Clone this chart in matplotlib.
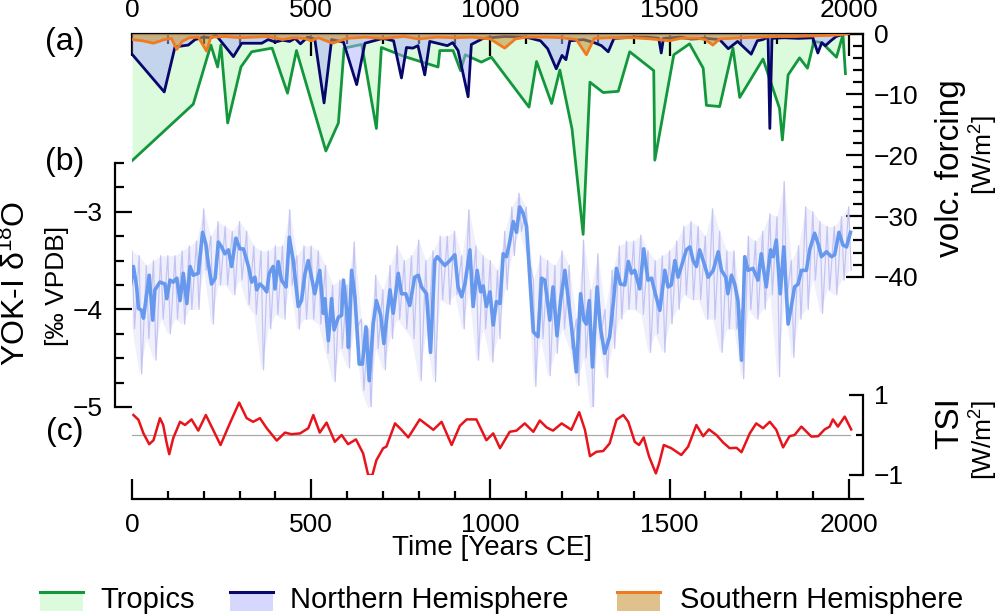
import numpy as np
import matplotlib
matplotlib.use("Agg")
import matplotlib.pyplot as plt
from matplotlib.ticker import MultipleLocator, FixedLocator
from matplotlib.patches import Rectangle
from matplotlib.lines import Line2D

plt.rcParams['font.family'] = ['Liberation Sans', 'DejaVu Sans']
plt.rcParams['mathtext.fontset'] = 'custom'
plt.rcParams['mathtext.rm'] = 'Liberation Sans'
plt.rcParams['mathtext.it'] = 'Liberation Sans:italic'

# ---------------- (a) volcanic forcing [W/m2] ----------------
trop_yr = [0, 171, 220, 239, 248, 267, 304, 334, 391, 434, 459, 541, 576, 592, 641,
           682, 696, 761, 854, 859, 896, 917, 930, 975, 1003, 1108, 1129, 1171, 1194,
           1228, 1259, 1278, 1315, 1357, 1389, 1456, 1459, 1512, 1556, 1594, 1603,
           1640, 1677, 1696, 1761, 1807, 1815, 1831, 1863, 1885, 1903, 1925, 1966,
           1984, 1991]
trop_val = [-20.9, -11.6, -1.9, -5.5, -1.9, -14.7, -5.5, -3.0, -2.4, -9.8, -2.8, -19.3,
            -14.7, -2.4, -1.8, -15.6, -2.3, -3.8, -5.5, -2.8, -2.8, -6.1, -3.5, -4.7,
            -3.9, -12.1, -4.6, -11.5, -6.0, -15.7, -33.0, -8.0, -9.7, -9.5, -3.0, -6.1,
            -20.8, -3.5, -1.7, -5.7, -11.8, -12.0, -2.4, -10.5, -4.2, -12.3, -17.5,
            -6.8, -4.0, -5.7, -1.3, -1.5, -3.9, -0.2, -6.6]

nh_yr = [0, 90, 120, 157, 176, 200, 220, 235, 283, 306, 362, 380, 400, 420, 440, 455,
         470, 490, 510, 536, 557, 590, 627, 650, 700, 730, 752, 766, 784, 798, 817, 831,
         880, 895, 910, 938, 947, 980, 1040, 1100, 1140, 1160, 1184, 1200, 1211, 1222,
         1260, 1290, 1310, 1329, 1345, 1400, 1440, 1470, 1477, 1483, 1530, 1560, 1600,
         1640, 1664, 1690, 1728, 1745, 1760, 1775, 1780, 1786, 1820, 1860, 1900, 1914,
         1925, 1935, 1950, 1965, 1975]
nh_val = [-3.4, -9.6, -2.2, -1.9, -1.0, -0.6, -0.7, -0.3, -3.8, -1.6, -1.6, -1.0, -1.4,
          -1.1, -1.3, -0.8, -1.7, -0.6, -0.9, -11.4, -1.0, -1.4, -8.4, -1.6, -0.8, -1.2,
          -7.3, -2.3, -2.4, -2.0, -6.8, -1.3, -2.0, -1.5, -2.8, -10.4, -1.8, -0.8, -0.5,
          -0.6, -1.2, -2.5, -5.8, -3.6, -4.3, -1.2, -1.0, -1.5, -2.0, -3.0, -0.8, -0.6,
          -0.6, -0.8, -3.2, -0.8, -0.6, -0.9, -0.8, -1.0, -2.5, -1.3, -3.4, -1.2, -1.0,
          -0.6, -15.6, -0.8, -0.7, -0.8, -0.7, -3.2, -1.5, -2.0, -1.2, -0.5, -0.3]

sh_yr = [0, 30, 60, 90, 110, 125, 140, 160, 185, 208, 220, 260, 300, 340, 380, 420, 450,
         480, 500, 520, 560, 600, 650, 700, 760, 800, 850, 900, 950, 1000, 1040, 1070,
         1100, 1160, 1200, 1240, 1268, 1290, 1330, 1400, 1450, 1500, 1530, 1580, 1600,
         1621, 1640, 1700, 1750, 1800, 1850, 1900, 1950, 1975, 2000]
sh_val = [-1.0, -1.2, -1.6, -1.0, -0.8, -2.6, -1.3, -0.7, -0.6, -2.9, -0.6, -0.5, -0.7,
          -0.6, -0.5, -1.0, -0.7, -0.8, -1.2, -0.7, -1.6, -0.8, -0.6, -0.8, -0.5, -0.9,
          -0.6, -0.7, -0.6, -0.9, -2.4, -0.9, -0.6, -0.6, -0.7, -1.0, -3.5, -0.8, -0.7,
          -0.7, -0.9, -1.2, -0.8, -0.8, -1.0, -1.9, -0.9, -0.7, -0.6, -0.5, -0.5, -0.4,
          -0.3, -0.2, 0.0]

# ---------------- (b) YOK-I d18O ----------------
d18o_smooth_yr = [-15, -6, 4, 13, 18, 27, 32, 41, 48, 58, 64, 78, 92, 97, 106, 115, 125,
    134, 143, 153, 162, 171, 185, 197, 206, 213, 222, 232, 241, 250, 259, 269, 278, 290,
    301, 311, 325, 334, 343, 348, 357, 366, 376, 383, 394, 399, 408, 417, 430, 439, 450,
    464, 473, 483, 492, 501, 510, 524, 534, 538, 548, 557, 564, 576, 585, 590, 599, 604,
    613, 622, 627, 634, 643, 653, 662, 673, 682, 694, 703, 710, 720, 729, 743, 752, 764,
    775, 789, 799, 808, 822, 833, 845, 852, 861, 873, 887, 901, 910, 920, 929, 943, 952,
    963, 973, 980, 989, 999, 1008, 1017, 1027, 1036, 1045, 1054, 1064, 1073, 1082, 1092,
    1101, 1110, 1120, 1133, 1143, 1152, 1166, 1175, 1186, 1196, 1208, 1220, 1231, 1240,
    1252, 1261, 1268, 1276, 1285, 1298, 1307, 1319, 1333, 1343, 1352, 1363, 1375, 1385,
    1394, 1403, 1417, 1428, 1440, 1450, 1459, 1473, 1487, 1496, 1505, 1515, 1524, 1533,
    1547, 1557, 1566, 1575, 1584, 1594, 1608, 1622, 1636, 1645, 1657, 1663, 1673, 1682,
    1691, 1701, 1710, 1719, 1733, 1747, 1756, 1770, 1782, 1789, 1798, 1809, 1819, 1831,
    1840, 1849, 1859, 1868, 1882, 1891, 1905, 1915, 1924, 1938, 1952, 1961, 1973, 1984,
    1994, 2005]
d18o_smooth = [-3.72, -3.79, -3.56, -3.77, -3.99, -4.01, -4.09, -3.84, -3.65, -4.11,
    -3.80, -3.72, -3.74, -3.89, -3.70, -3.72, -3.68, -3.91, -3.63, -3.94, -3.56, -3.65,
    -3.63, -3.21, -3.33, -3.53, -3.74, -3.68, -3.31, -3.36, -3.43, -3.39, -3.56, -3.27,
    -3.38, -3.38, -3.56, -3.72, -3.67, -3.80, -3.74, -3.77, -3.82, -3.63, -3.56, -3.79,
    -3.51, -3.70, -3.77, -3.26, -3.50, -3.97, -3.91, -3.63, -3.50, -3.67, -3.84, -3.60,
    -4.04, -3.89, -4.32, -3.89, -4.21, -4.08, -4.06, -3.70, -4.01, -4.39, -3.60, -3.87,
    -4.15, -4.56, -4.56, -4.18, -4.73, -4.15, -3.91, -4.06, -4.35, -4.11, -3.80, -4.04,
    -3.63, -3.84, -3.84, -3.96, -3.67, -3.65, -3.77, -3.84, -4.44, -3.50, -3.46, -3.50,
    -3.55, -3.50, -3.44, -3.77, -3.87, -3.74, -3.39, -3.97, -3.60, -3.82, -3.76, -3.97,
    -3.82, -4.16, -3.92, -3.94, -3.43, -3.46, -3.31, -3.10, -3.21, -2.95, -3.02, -3.15,
    -3.67, -4.23, -4.28, -3.68, -3.70, -4.11, -3.77, -4.27, -3.91, -3.60, -3.97, -4.32,
    -4.64, -3.84, -4.11, -4.15, -3.91, -4.59, -3.77, -4.18, -4.45, -4.28, -3.94, -3.58,
    -3.74, -3.75, -3.51, -3.63, -3.60, -3.79, -3.38, -3.70, -3.68, -3.82, -4.01, -3.60,
    -3.77, -3.75, -3.50, -3.67, -3.56, -3.39, -3.36, -3.50, -3.56, -3.39, -3.50, -3.67,
    -3.60, -3.41, -3.60, -3.67, -3.84, -3.65, -3.74, -3.91, -4.52, -3.46, -3.60, -3.58,
    -3.70, -3.43, -3.77, -3.39, -3.46, -3.29, -3.84, -3.36, -4.15, -3.97, -3.77, -3.74,
    -3.60, -3.60, -3.39, -3.22, -3.33, -3.46, -3.41, -3.46, -3.44, -3.21, -3.34, -3.36,
    -3.21]

d18o_raw_yr = list(range(0, 2001, 20))
d18o_raw_hi = [-3.40, -3.45, -3.55, -3.50, -3.45, -3.45, -3.45, -3.40, -3.35, -3.30,
    -2.97, -3.25, -3.10, -3.15, -3.20, -3.10, -3.20, -3.35, -3.40, -3.40, -3.35, -3.35,
    -2.98, -3.45, -3.35, -3.35, -3.40, -3.55, -3.75, -3.70, -3.75, -3.31, -4.10, -4.20,
    -3.65, -3.80, -3.55, -3.35, -3.50, -3.45, -3.29, -3.50, -3.40, -3.25, -3.25, -3.20,
    -3.45, -2.98, -3.35, -3.45, -3.50, -3.60, -3.20, -2.95, -2.81, -2.95, -3.70, -3.45,
    -3.50, -3.55, -3.40, -3.55, -4.10, -3.29, -3.80, -3.43, -4.00, -3.60, -3.35, -3.30,
    -3.30, -3.24, -3.40, -3.50, -3.45, -3.40, -3.30, -3.15, -3.10, -3.15, -3.25, -2.97,
    -3.20, -3.40, -3.40, -4.00, -3.25, -3.30, -3.20, -3.02, -3.05, -2.69, -3.50, -3.35,
    -2.95, -3.00, -3.10, -3.15, -3.15, -3.05, -2.95]
d18o_raw_lo = [-4.20, -4.66, -4.30, -4.52, -4.10, -4.25, -4.10, -4.15, -4.00, -4.00,
    -3.60, -4.15, -3.75, -3.75, -3.85, -3.70, -3.95, -4.05, -4.62, -4.20, -4.05, -4.10,
    -3.75, -4.20, -4.10, -4.10, -4.15, -4.45, -4.74, -4.40, -4.60, -4.20, -4.83, -5.03,
    -4.40, -4.62, -4.30, -4.10, -4.20, -4.30, -4.73, -4.25, -4.74, -3.90, -3.95, -3.85,
    -4.20, -3.85, -4.52, -4.20, -4.54, -4.30, -3.80, -3.45, -3.20, -3.45, -4.79, -4.30,
    -4.68, -4.45, -4.20, -4.40, -4.78, -4.50, -5.09, -4.30, -4.70, -4.40, -4.10, -4.00,
    -4.00, -4.05, -4.44, -4.25, -4.44, -4.15, -4.00, -3.85, -3.90, -3.90, -4.10, -4.10,
    -4.44, -4.20, -4.20, -4.71, -4.00, -4.10, -4.00, -3.85, -4.69, -3.90, -4.49, -4.10,
    -4.00, -3.70, -4.04, -3.80, -3.85, -3.70, -3.60]

# ---------------- (c) TSI [W/m2] ----------------
tsi_yr = [4, 18, 32, 48, 60, 78, 87, 97, 104, 115, 134, 148, 166, 185, 206, 222, 247,
          273, 299, 320, 338, 357, 376, 404, 427, 445, 469, 492, 506, 524, 543, 566, 585,
          603, 625, 645, 659, 671, 682, 701, 710, 734, 752, 771, 803, 841, 864, 892, 915,
          934, 961, 989, 1008, 1027, 1054, 1073, 1096, 1120, 1138, 1157, 1175, 1199, 1226,
          1248, 1264, 1278, 1296, 1315, 1333, 1352, 1371, 1385, 1403, 1415, 1428, 1443,
          1462, 1471, 1484, 1505, 1533, 1552, 1575, 1594, 1610, 1631, 1650, 1668, 1687,
          1701, 1724, 1742, 1761, 1780, 1798, 1817, 1835, 1849, 1868, 1896, 1915, 1933,
          1947, 1956, 1970, 1989, 2007]
tsi_val = [0.50, 0.38, 0.04, -0.23, -0.13, 0.42, 0.25, -0.21, -0.48, -0.08, 0.33, 0.25,
           0.39, 0.11, 0.50, 0.21, -0.25, 0.29, 0.81, 0.42, 0.33, 0.42, 0.17, -0.14, 0.06,
           0.02, 0.04, 0.17, 0.50, 0.06, 0.31, -0.17, 0.00, -0.23, -0.11, -0.46, -1.00,
           -1.00, -0.63, -0.33, -0.29, 0.29, 0.13, -0.06, 0.39, 0.13, 0.33, -0.25, 0.23,
           0.39, 0.39, -0.13, 0.04, -0.33, 0.08, 0.11, 0.29, 0.08, 0.36, 0.19, 0.11, 0.29,
           0.13, 0.57, 0.13, -0.53, -0.42, -0.40, -0.21, 0.38, 0.50, 0.33, -0.17, -0.25,
           -0.06, -0.54, -0.96, -0.71, -0.25, -0.33, -0.50, -0.29, 0.25, -0.03, 0.14, 0.00,
           -0.19, -0.33, -0.32, -0.43, 0.04, 0.29, 0.17, 0.33, 0.13, -0.31, -0.03, 0.00,
           0.21, -0.04, -0.03, 0.14, 0.21, 0.39, 0.21, 0.46, 0.14]

x_major = [0, 500, 1000, 1500, 2000]
volc_ticks = [0, -10, -20, -30, -40]
d18o_ticks = [-3, -4, -5]
tsi_ticks = [1, -1]

# colours
C_TROP, F_TROP = '#13973c', '#dcfadc'
C_NH, F_NH = '#07076b', '#aeb0ff'
C_SH, F_SH = '#ef7a22', '#c9983e'
C_RAW, C_SMO = '#c4c4f4', '#6699ee'
C_TSI = '#e8141c'

W, H = 1000, 616
fig = plt.figure(figsize=(10, 6.16), dpi=100)

def fx(px):
    return px / W

def fy(py):
    return 1 - py / H

XL, XR = 132, 863
XLIM = (0, 2040)
TFS = 19

# ---- panel (a)
ax_a = fig.add_axes([fx(XL), fy(277), fx(XR - XL), (277 - 33.5) / H])
ax_a.set_xlim(*XLIM)
ax_a.set_ylim(-40, 0)
ax_a.patch.set_alpha(0)
ax_a.fill_between(trop_yr, trop_val, 0, color=F_TROP, lw=0, zorder=1)
ax_a.plot(trop_yr, trop_val, color=C_TROP, lw=2, zorder=2)
ax_a.fill_between(nh_yr, nh_val, 0, color=F_NH, alpha=0.5, lw=0, zorder=3)
ax_a.plot(nh_yr, nh_val, color=C_NH, lw=2, zorder=4)
ax_a.fill_between(sh_yr, sh_val, 0, color=F_SH, alpha=0.6, lw=0, zorder=5)
ax_a.plot(sh_yr, sh_val, color=C_SH, lw=2, zorder=6)
for s in ['left', 'bottom']:
    ax_a.spines[s].set_visible(False)
for s in ['top', 'right']:
    ax_a.spines[s].set_linewidth(1.6)
ax_a.xaxis.tick_top()
ax_a.xaxis.set_major_locator(FixedLocator(x_major))
ax_a.xaxis.set_minor_locator(MultipleLocator(100))
ax_a.tick_params(axis='x', which='major', direction='in', length=16, width=1.6,
                 labelsize=TFS, pad=8, top=True, bottom=False, labeltop=True,
                 labelbottom=False)
ax_a.tick_params(axis='x', which='minor', direction='in', length=7.5, width=1.6,
                 top=True, bottom=False)
ax_a.yaxis.tick_right()
ax_a.yaxis.set_major_locator(FixedLocator(volc_ticks))
ax_a.yaxis.set_minor_locator(MultipleLocator(2))
ax_a.tick_params(axis='y', which='major', direction='in', length=12, width=1.6,
                 labelsize=TFS, pad=8, right=True, left=False, labelright=True,
                 labelleft=False)
ax_a.tick_params(axis='y', which='minor', direction='in', length=7, width=1.6,
                 right=True, left=False)

# ---- panel (b)
ax_b = fig.add_axes([fx(XL), fy(407), fx(XR - XL), 244 / H])
ax_b.set_xlim(*XLIM)
ax_b.set_ylim(-5, -2.5)
ax_b.patch.set_alpha(0)
raw_x, raw_y = [], []
for i, yv in enumerate(d18o_raw_yr):
    raw_x += [yv, yv + 7]
    raw_y += [d18o_raw_hi[i], d18o_raw_lo[i]]
ax_b.fill_between(d18o_raw_yr, d18o_raw_lo, d18o_raw_hi, color=C_RAW, alpha=0.25, lw=0)
ax_b.plot(raw_x, raw_y, color=C_RAW, lw=0.9)
ax_b.plot(d18o_smooth_yr, d18o_smooth, color=C_SMO, lw=2.6)
for s in ['top', 'right', 'bottom']:
    ax_b.spines[s].set_visible(False)
ax_b.spines['left'].set_position(('outward', 12))
ax_b.spines['left'].set_linewidth(1.6)
ax_b.set_xticks([])
ax_b.yaxis.set_major_locator(FixedLocator(d18o_ticks))
ax_b.yaxis.set_minor_locator(MultipleLocator(0.25))
ax_b.tick_params(axis='y', which='major', direction='in', length=12, width=1.6,
                 labelsize=TFS, pad=9)
ax_b.tick_params(axis='y', which='minor', direction='in', length=6.5, width=1.6)

# ---- panel (c)
ax_c = fig.add_axes([fx(XL), fy(475), fx(XR - XL), 80 / H])
ax_c.set_xlim(*XLIM)
ax_c.set_ylim(-1, 1)
ax_c.patch.set_alpha(0)
ax_c.plot([0, 2005], [0, 0], color='#aaaaaa', lw=0.9)
ax_c.plot(tsi_yr, tsi_val, color=C_TSI, lw=1.8)
for s in ['top', 'left']:
    ax_c.spines[s].set_visible(False)
ax_c.spines['bottom'].set_position(('outward', 17))
ax_c.spines['bottom'].set_linewidth(1.6)
ax_c.spines['right'].set_linewidth(1.6)
ax_c.xaxis.set_major_locator(FixedLocator(x_major))
ax_c.xaxis.set_minor_locator(MultipleLocator(100))
ax_c.tick_params(axis='x', which='major', direction='in', length=14.5, width=1.6,
                 labelsize=TFS, pad=10)
ax_c.tick_params(axis='x', which='minor', direction='in', length=6, width=1.6)
ax_c.yaxis.tick_right()
ax_c.yaxis.set_major_locator(FixedLocator(tsi_ticks))
ax_c.yaxis.set_minor_locator(FixedLocator([0]))
ax_c.tick_params(axis='y', which='major', direction='in', length=10, width=1.6,
                 labelsize=TFS, pad=8, right=True, left=False, labelright=True,
                 labelleft=False)
ax_c.tick_params(axis='y', which='minor', direction='in', length=5, width=1.6,
                 right=True, left=False)

# ---- texts
for lab, py in [('(a)', 42), ('(b)', 162), ('(c)', 432)]:
    fig.text(fx(65), fy(py), lab, fontsize=23, ha='center', va='center')
fig.text(fx(16), fy(283), r'YOK-I δ$^{18}$O', fontsize=23, rotation=90,
         ha='center', va='center')
fig.text(fx(57), fy(286), '[‰ VPDB]', fontsize=19, rotation=90,
         ha='center', va='center')
fig.text(fx(950), fy(168), 'volc. forcing', fontsize=24, rotation=90,
         ha='center', va='center')
fig.text(fx(984), fy(155), r'[W/m$^2$]', fontsize=19, rotation=90,
         ha='center', va='center')
fig.text(fx(950), fy(423), 'TSI', fontsize=24, rotation=90, ha='center', va='center')
fig.text(fx(984), fy(440), r'[W/m$^2$]', fontsize=19, rotation=90,
         ha='center', va='center')
fig.text(fx(492), fy(548), 'Time [Years CE]', fontsize=20, ha='center', va='center')

# ---- legend (manual)
leg = [('Tropics', C_TROP, F_TROP, 1.0, 40, 100),
       ('Northern Hemisphere', C_NH, F_NH, 0.5, 230, 290),
       ('Southern Hemisphere', C_SH, F_SH, 0.6, 617, 680)]
for name, lc, fc, al, px0, tx in leg:
    fig.add_artist(Rectangle((fx(px0), fy(611)), fx(43), 20 / H, transform=fig.transFigure,
                             facecolor=fc, alpha=al, lw=0))
    fig.add_artist(Line2D([fx(px0), fx(px0 + 43)], [fy(592), fy(592)],
                          transform=fig.transFigure, color=lc, lw=2.2))
    fig.text(fx(tx), fy(600), name, fontsize=21, ha='left', va='center')

fig.savefig('out.png', dpi=100)
